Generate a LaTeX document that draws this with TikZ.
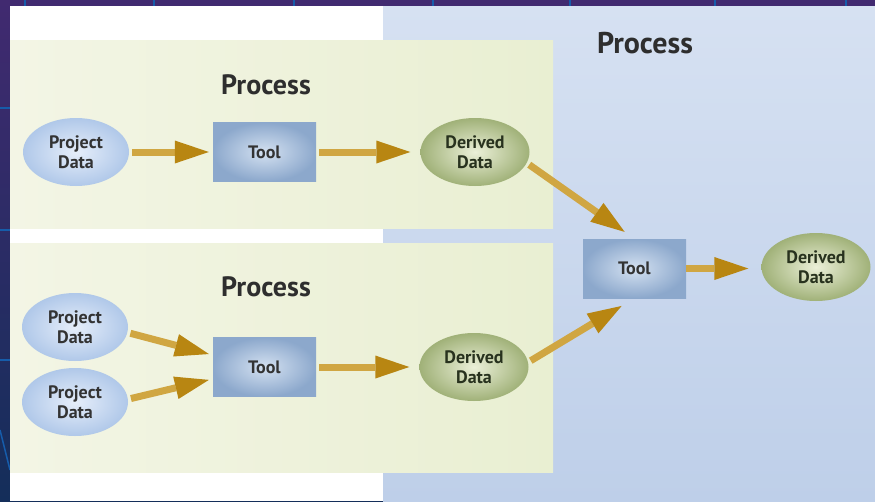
\documentclass[tikz,border=0pt]{standalone}
\usepackage{fontspec}
\setmainfont{PT Sans}
\usetikzlibrary{shapes.geometric,arrows.meta,positioning,calc}
\definecolor{bgtop}{RGB}{65,42,112}
\definecolor{bgbot}{RGB}{20,46,90}
\definecolor{gridblue}{RGB}{22,92,170}
\definecolor{panelgreenL}{RGB}{243,245,229}
\definecolor{panelgreenR}{RGB}{233,239,210}
\definecolor{panelblueT}{RGB}{214,225,242}
\definecolor{panelblueB}{RGB}{190,207,233}
\definecolor{pdin}{RGB}{230,238,250}
\definecolor{pdout}{RGB}{176,200,233}
\definecolor{toolin}{RGB}{212,225,241}
\definecolor{toolout}{RGB}{140,168,204}
\definecolor{ddin}{RGB}{235,240,216}
\definecolor{ddout}{RGB}{160,177,120}
\definecolor{ddtext}{RGB}{40,50,30}
\definecolor{arrshaft}{RGB}{208,166,66}
\definecolor{arrhead}{RGB}{184,134,18}

\begin{document}
\begin{tikzpicture}[x=1pt,y=-1pt,every node/.style={font=\bfseries\fontsize{18}{19.5}\selectfont,text=black!80},
  pdata/.style={ellipse,inner color=pdin,outer color=pdout,minimum width=106pt,minimum height=68pt,inner sep=0pt,align=center},
  tool/.style={rectangle,inner color=toolin,outer color=toolout,minimum width=103pt,minimum height=59pt,inner sep=0pt},
  ddata/.style={ellipse,inner color=ddin,outer color=ddout,minimum width=109pt,minimum height=68pt,inner sep=0pt,align=center,text=ddtext},
  ptitle/.style={font=\bfseries\fontsize{28}{30}\selectfont,text=black!82},
  arr/.style={line width=7pt,draw=arrshaft,-{Triangle[length=34pt,width=23pt,line width=0pt,color=arrhead]},shorten <=3pt,shorten >=4pt}]
\useasboundingbox (0,0) rectangle (875,501);
\shade[top color=bgtop,bottom color=bgbot] (0,0) rectangle (875,501);
\foreach \gx in {25,154,294,433,570,715,846} \draw[gridblue,line width=2pt] (\gx,0) -- (\gx,6);
\foreach \gy in {108,230,360} \draw[gridblue,line width=2pt] (0,\gy) -- (10,\gy);
\draw[gridblue,line width=1.5pt] (0,430) -- (10,470);
\fill[white] (10,6) rectangle (875,501);
\shade[top color=panelblueT,bottom color=panelblueB] (383,6) rectangle (875,501);
\shade[left color=panelgreenL,right color=panelgreenR] (10,40) rectangle (553,228);
\shade[left color=panelgreenL,right color=panelgreenR] (10,243) rectangle (553,472);
\node[ptitle] (t1) at (266,85) {Process};
\node[ptitle] (t2) at (266,287) {Process};
\node[ptitle,font=\bfseries\fontsize{30}{32}\selectfont] (t3) at (645,43) {Process};
\node[pdata] (pd1) at (76,152) {Project\\Data};
\node[tool] (tool1) at (264.5,152) {Tool};
\node[ddata] (dd1) at (475,152) {Derived\\Data};
\node[pdata] (pd2) at (75,327) {Project\\Data};
\node[pdata] (pd3) at (75,402) {Project\\Data};
\node[tool] (tool2) at (264.5,367) {Tool};
\node[ddata] (dd2) at (474,367) {Derived\\Data};
\node[tool] (tool3) at (634.5,268.5) {Tool};
\node[ddata] (dd3) at (816,267) {Derived\\Data};
\draw[arr] (pd1.east) -- (pd1.east -| tool1.west);
\draw[arr,shorten >=10pt] (tool1.east) -- (tool1.east -| dd1.west);
\draw[arr] (pd2.-6) -- (tool2.167);
\draw[arr] (pd3.3) -- (tool2.193);
\draw[arr,shorten >=10pt] (tool2.east) -- (tool2.east -| dd2.west);
\draw[arr,shorten >=12pt] (dd1.-12) -- (tool3.north);
\draw[arr,shorten >=15pt] (dd2.5) -- (tool3.south);
\draw[arr,shorten <=0pt,shorten >=13pt] (tool3.east) -- (tool3.east -| dd3.west);
\end{tikzpicture}
\end{document}
